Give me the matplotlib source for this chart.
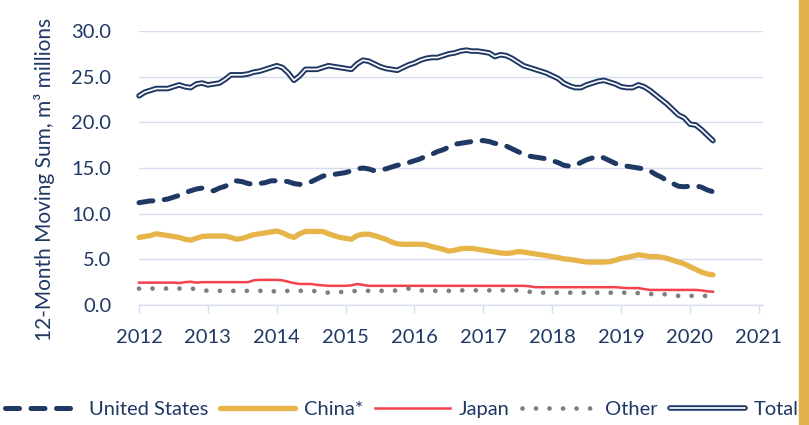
import numpy as np
import matplotlib
matplotlib.use("Agg")
import matplotlib.pyplot as plt
from matplotlib.patches import Rectangle
import matplotlib.patheffects as pe

plt.rcParams['font.family'] = ['Lato', 'DejaVu Sans']

# Monthly 12-month moving sums, Jan 2012 - May 2020 (m3 millions)
united_states = [
    11.2, 11.3, 11.4, 11.4, 11.5, 11.6, 11.8, 12.0, 12.3, 12.5, 12.7, 12.8,
    12.6, 12.5, 12.8, 13.0, 13.3, 13.6, 13.5, 13.3, 13.2, 13.3, 13.4, 13.6,
    13.6, 13.6, 13.5, 13.3, 13.2, 13.4, 13.5, 13.8, 14.1, 14.3, 14.3, 14.4,
    14.5, 14.7, 14.9, 15.0, 14.9, 14.7, 14.8, 14.9, 15.1, 15.3, 15.4, 15.6,
    15.8, 16.0, 16.3, 16.5, 16.8, 17.0, 17.3, 17.6, 17.7, 17.8, 17.9, 18.0,
    18.0, 17.9, 17.7, 17.6, 17.4, 17.1, 16.8, 16.5, 16.3, 16.2, 16.1, 16.0,
    15.8, 15.6, 15.3, 15.2, 15.3, 15.6, 15.9, 16.1, 16.3, 16.1, 15.8, 15.5,
    15.3, 15.2, 15.1, 15.0, 14.9, 14.7, 14.3, 14.0, 13.6, 13.3, 13.0, 12.95,
    13.0, 13.05, 12.9, 12.6, 12.4,
]
china = [
    7.4, 7.5, 7.6, 7.8, 7.7, 7.6, 7.5, 7.4, 7.2, 7.1, 7.3, 7.5,
    7.55, 7.55, 7.55, 7.55, 7.4, 7.2, 7.3, 7.5, 7.7, 7.8, 7.9, 8.0,
    8.1, 7.9, 7.6, 7.4, 7.8, 8.05, 8.05, 8.05, 8.05, 7.8, 7.6, 7.4,
    7.3, 7.2, 7.6, 7.75, 7.75, 7.6, 7.4, 7.2, 6.9, 6.7, 6.65, 6.65,
    6.65, 6.65, 6.6, 6.4, 6.25, 6.1, 5.9, 6.0, 6.15, 6.2, 6.2, 6.1,
    6.0, 5.9, 5.8, 5.7, 5.65, 5.7, 5.85, 5.8, 5.7, 5.6, 5.5, 5.4,
    5.3, 5.2, 5.05, 5.0, 4.9, 4.8, 4.7, 4.7, 4.7, 4.7, 4.75, 4.9,
    5.1, 5.2, 5.35, 5.5, 5.4, 5.3, 5.3, 5.25, 5.1, 4.9, 4.7, 4.5,
    4.2, 3.9, 3.6, 3.4, 3.3,
]
japan = [
    2.45, 2.45, 2.45, 2.45, 2.45, 2.45, 2.45, 2.4, 2.5, 2.55, 2.45, 2.5,
    2.5, 2.5, 2.5, 2.5, 2.5, 2.5, 2.5, 2.5, 2.7, 2.75, 2.75, 2.75,
    2.75, 2.7, 2.55, 2.4, 2.3, 2.3, 2.3, 2.2, 2.15, 2.1, 2.1, 2.1,
    2.1, 2.15, 2.3, 2.2, 2.1, 2.1, 2.1, 2.1, 2.1, 2.1, 2.1, 2.1,
    2.1, 2.1, 2.1, 2.1, 2.1, 2.1, 2.1, 2.1, 2.1, 2.1, 2.1, 2.1,
    2.1, 2.1, 2.1, 2.1, 2.1, 2.1, 2.1, 2.1, 2.05, 1.95, 1.95, 1.95,
    1.95, 1.95, 1.95, 1.95, 1.95, 1.95, 1.95, 1.95, 1.95, 1.95, 1.95, 1.95,
    1.9, 1.85, 1.85, 1.85, 1.75, 1.65, 1.65, 1.65, 1.65, 1.65, 1.65, 1.65,
    1.65, 1.65, 1.6, 1.5, 1.45,
]
other = [
    1.8, 1.8, 1.8, 1.8, 1.8, 1.8, 1.85, 1.8, 1.8, 1.8, 1.75, 1.65,
    1.55, 1.55, 1.55, 1.55, 1.55, 1.55, 1.55, 1.55, 1.55, 1.55, 1.55, 1.55,
    1.45, 1.5, 1.55, 1.55, 1.55, 1.55, 1.55, 1.5, 1.4, 1.35, 1.35, 1.4,
    1.5, 1.5, 1.55, 1.55, 1.55, 1.55, 1.55, 1.55, 1.55, 1.6, 1.7, 1.8,
    1.7, 1.6, 1.55, 1.55, 1.55, 1.55, 1.55, 1.55, 1.6, 1.6, 1.6, 1.6,
    1.6, 1.6, 1.6, 1.6, 1.6, 1.6, 1.6, 1.55, 1.45, 1.4, 1.35, 1.35,
    1.35, 1.35, 1.35, 1.35, 1.35, 1.35, 1.35, 1.35, 1.35, 1.35, 1.35, 1.35,
    1.35, 1.35, 1.35, 1.3, 1.25, 1.2, 1.2, 1.2, 1.15, 1.1, 1.0, 1.0,
    1.0, 1.0, 1.0, 1.0, 1.0,
]
total = [
    22.9, 23.3, 23.5, 23.7, 23.7, 23.7, 23.9, 24.1, 23.9, 23.8, 24.2, 24.3,
    24.1, 24.2, 24.3, 24.7, 25.2, 25.2, 25.2, 25.3, 25.5, 25.6, 25.8, 26.0,
    26.2, 26.0, 25.4, 24.6, 25.1, 25.8, 25.8, 25.8, 26.0, 26.2, 26.1, 26.0,
    25.9, 25.8, 26.4, 26.8, 26.7, 26.4, 26.1, 25.9, 25.8, 25.7, 26.0, 26.3,
    26.5, 26.8, 27.0, 27.1, 27.1, 27.3, 27.5, 27.6, 27.8, 27.9, 27.8, 27.8,
    27.7, 27.6, 27.2, 27.4, 27.3, 27.0, 26.6, 26.2, 26.0, 25.8, 25.6, 25.4,
    25.1, 24.8, 24.3, 24.0, 23.8, 23.8, 24.1, 24.3, 24.5, 24.6, 24.4, 24.2,
    23.9, 23.8, 23.8, 24.1, 23.9, 23.5, 23.0, 22.5, 22.0, 21.4, 20.8, 20.5,
    19.8, 19.7, 19.2, 18.6, 18.0,
]
start_year = 2012
year_ticks = list(range(2012, 2022))
y_ticks = [0, 5, 10, 15, 20, 25, 30]
series_names = ["United States", "China*", "Japan", "Other", "Total"]

years = start_year + np.arange(len(total)) / 12.0

NAVY = "#203864"
GOLD = "#E6B449"
RED = "#F4424B"
GREY = "#7F7F7F"
GRID = "#D6DDEF"
FS = 14.5

fig = plt.figure(figsize=(8.09, 4.25), dpi=100)
ax = fig.add_axes([139/809, 1-305/425, (763-139)/809, (305-31)/425])

ax.plot(years, united_states, color=NAVY, lw=3.6, linestyle=(0, (2.8, 2.3)),
        dash_capstyle='round', label=series_names[0], clip_on=False, zorder=3)
ax.plot(years, china, color=GOLD, lw=3.8, solid_capstyle='round',
        label=series_names[1], clip_on=False, zorder=3)
ax.plot(years, japan, color=RED, lw=1.8, label=series_names[2],
        clip_on=False, zorder=3)
ax.plot(years, other, color=GREY, lw=3.4, linestyle=(0, (0.01, 2.85)),
        dash_capstyle='round', label=series_names[3], clip_on=False, zorder=3)
ax.plot(years, total, color="white", lw=1.2, solid_capstyle='round',
        solid_joinstyle='round', label=series_names[4], clip_on=False, zorder=4,
        path_effects=[pe.Stroke(linewidth=4.0, foreground=NAVY), pe.Normal()])

ax.set_xlim(2012, 2021.06)
ax.set_ylim(0, 30)
ax.set_yticks(y_ticks)
ax.set_yticklabels([f"{v:.1f}" for v in y_ticks])
ax.set_xticks(year_ticks)
ax.set_xticklabels([str(y) for y in year_ticks])
ax.grid(axis='y', color=GRID, lw=1.0)
ax.set_axisbelow(True)
for s in ['top', 'right', 'left']:
    ax.spines[s].set_visible(False)
ax.spines['bottom'].set_color(GRID)
ax.spines['bottom'].set_linewidth(1.0)
ax.tick_params(axis='y', length=0, pad=20, labelsize=FS, labelcolor=NAVY)
ax.tick_params(axis='x', length=6, width=1.0, color=GRID, pad=11,
               labelsize=FS, labelcolor=NAVY)
ax.set_ylabel("12-Month Moving Sum, m³ millions", fontsize=FS + 0.5, color=NAVY)
ax.yaxis.set_label_coords(-0.135, 0.46)

fig.legend(loc='center', bbox_to_anchor=(402/809, 1-409/425), ncol=5,
           frameon=False, fontsize=FS, labelcolor=NAVY, handlelength=3.7,
           handletextpad=0.45, columnspacing=0.6)

fig.patches.append(Rectangle((799/809, 0), 10/809, 1, transform=fig.transFigure,
                             color="#E3B04B", zorder=0))

fig.savefig("out.png", dpi=100)
